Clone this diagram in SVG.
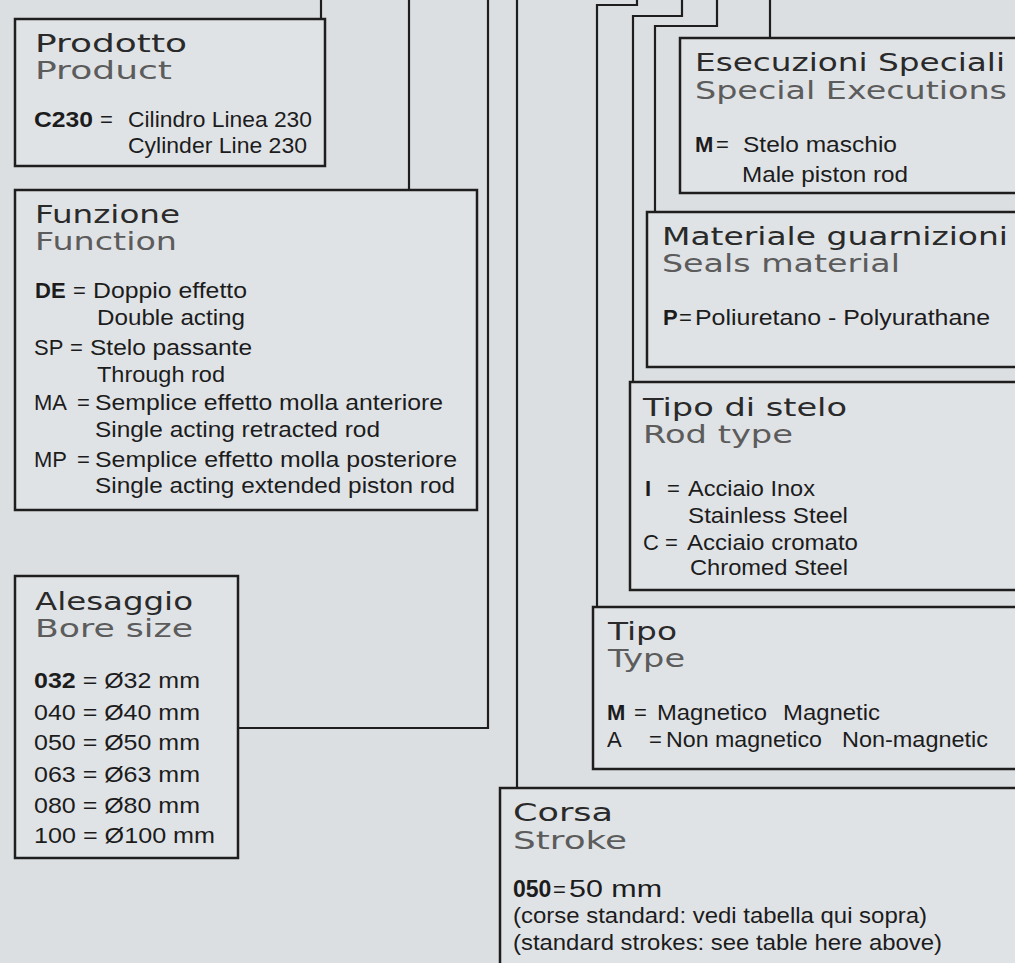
<svg xmlns="http://www.w3.org/2000/svg" width="1015" height="963" viewBox="0 0 1015 963">
<style>
.bg{fill:#dcdfe2}
.box{fill:#e0e3e6;stroke:#1e1e1e;stroke-width:2.5}
.con{fill:none;stroke:#1e1e1e;stroke-width:2.2}
.t1{font-family:"DejaVu Sans",sans-serif;font-size:25px;fill:#2a2a2a}
.t2{font-family:"DejaVu Sans",sans-serif;font-size:25px;fill:#5c5c5c}
.b{font-family:"Liberation Sans",Arial,sans-serif;font-size:22px;fill:#1c1c1c}
.k{font-weight:bold}
</style>
<rect class="bg" x="0" y="0" width="1015" height="963"/>
<g id="connectors">
<path class="con" d="M321 0V19"/>
<path class="con" d="M409 0V190"/>
<path class="con" d="M488 0V728H238"/>
<path class="con" d="M517 0V788"/>
<path class="con" d="M597 607V5H637V0"/>
<path class="con" d="M633 382V16H682V0"/>
<path class="con" d="M655 212V26H717V0"/>
<path class="con" d="M770 0V38"/>
</g>
<g id="prodotto">
<rect class="box" x="15" y="19" width="310" height="147"/>
<text class="t1" x="35" y="52" textLength="152" lengthAdjust="spacingAndGlyphs">Prodotto</text>
<text class="t2" x="35" y="79" textLength="137" lengthAdjust="spacingAndGlyphs">Product</text>
<text class="b k" x="34" y="127" textLength="59" lengthAdjust="spacingAndGlyphs">C230</text>
<text class="b" x="100" y="127">=</text>
<text class="b" x="128" y="127" textLength="184" lengthAdjust="spacingAndGlyphs">Cilindro Linea 230</text>
<text class="b" x="128" y="153" textLength="179" lengthAdjust="spacingAndGlyphs">Cylinder Line 230</text>
</g>
<g id="funzione">
<rect class="box" x="15" y="190" width="462" height="320"/>
<text class="t1" x="35" y="223" textLength="145" lengthAdjust="spacingAndGlyphs">Funzione</text>
<text class="t2" x="35" y="250" textLength="142" lengthAdjust="spacingAndGlyphs">Function</text>
<text class="b k" x="35" y="298">DE</text>
<text class="b" x="73" y="298">=</text>
<text class="b" x="93" y="298" textLength="154" lengthAdjust="spacingAndGlyphs">Doppio effetto</text>
<text class="b" x="97" y="325" textLength="148" lengthAdjust="spacingAndGlyphs">Double acting</text>
<text class="b" x="34" y="355">SP</text>
<text class="b" x="70" y="355">=</text>
<text class="b" x="90" y="355" textLength="162" lengthAdjust="spacingAndGlyphs">Stelo passante</text>
<text class="b" x="97" y="382" textLength="128" lengthAdjust="spacingAndGlyphs">Through rod</text>
<text class="b" x="34" y="410">MA</text>
<text class="b" x="77" y="410">=</text>
<text class="b" x="95" y="410" textLength="348" lengthAdjust="spacingAndGlyphs">Semplice effetto molla anteriore</text>
<text class="b" x="95" y="437" textLength="285" lengthAdjust="spacingAndGlyphs">Single acting retracted rod</text>
<text class="b" x="34" y="467">MP</text>
<text class="b" x="77" y="467">=</text>
<text class="b" x="95" y="467" textLength="362" lengthAdjust="spacingAndGlyphs">Semplice effetto molla posteriore</text>
<text class="b" x="95" y="493" textLength="360" lengthAdjust="spacingAndGlyphs">Single acting extended piston rod</text>
</g>
<g id="alesaggio">
<rect class="box" x="15" y="576" width="223" height="282"/>
<text class="t1" x="35" y="610" textLength="158" lengthAdjust="spacingAndGlyphs">Alesaggio</text>
<text class="t2" x="35" y="637" textLength="158" lengthAdjust="spacingAndGlyphs">Bore size</text>
<text class="b" x="34" y="688" textLength="166" lengthAdjust="spacingAndGlyphs"><tspan class="k">032</tspan> = Ø32 mm</text>
<text class="b" x="34" y="720" textLength="166" lengthAdjust="spacingAndGlyphs">040 = Ø40 mm</text>
<text class="b" x="34" y="750" textLength="166" lengthAdjust="spacingAndGlyphs">050 = Ø50 mm</text>
<text class="b" x="34" y="782" textLength="166" lengthAdjust="spacingAndGlyphs">063 = Ø63 mm</text>
<text class="b" x="34" y="813" textLength="166" lengthAdjust="spacingAndGlyphs">080 = Ø80 mm</text>
<text class="b" x="34" y="843" textLength="181" lengthAdjust="spacingAndGlyphs">100 = Ø100 mm</text>
</g>
<g id="esecuzioni">
<rect class="box" x="680" y="38" width="345" height="155"/>
<text class="t1" x="695" y="71" textLength="310" lengthAdjust="spacingAndGlyphs">Esecuzioni Speciali</text>
<text class="t2" x="695" y="99" textLength="312" lengthAdjust="spacingAndGlyphs">Special Executions</text>
<text class="b k" x="695" y="152">M</text>
<text class="b" x="716" y="152">=</text>
<text class="b" x="743" y="152" textLength="154" lengthAdjust="spacingAndGlyphs">Stelo maschio</text>
<text class="b" x="742" y="182" textLength="166" lengthAdjust="spacingAndGlyphs">Male piston rod</text>
</g>
<g id="materiale">
<rect class="box" x="647" y="212" width="378" height="155"/>
<text class="t1" x="662" y="245" textLength="346" lengthAdjust="spacingAndGlyphs">Materiale guarnizioni</text>
<text class="t2" x="662" y="272" textLength="238" lengthAdjust="spacingAndGlyphs">Seals material</text>
<text class="b k" x="663" y="325">P</text>
<text class="b" x="679" y="325">=</text>
<text class="b" x="695" y="325" textLength="295" lengthAdjust="spacingAndGlyphs">Poliuretano - Polyurathane</text>
</g>
<g id="tipo-stelo">
<rect class="box" x="630" y="382" width="395" height="208"/>
<text class="t1" x="643" y="416" textLength="204" lengthAdjust="spacingAndGlyphs">Tipo di stelo</text>
<text class="t2" x="643" y="443" textLength="150" lengthAdjust="spacingAndGlyphs">Rod type</text>
<text class="b k" x="645" y="496">I</text>
<text class="b" x="667" y="496">=</text>
<text class="b" x="688" y="496" textLength="127" lengthAdjust="spacingAndGlyphs">Acciaio Inox</text>
<text class="b" x="688" y="523" textLength="160" lengthAdjust="spacingAndGlyphs">Stainless Steel</text>
<text class="b" x="643" y="550">C</text>
<text class="b" x="665" y="550">=</text>
<text class="b" x="687" y="550" textLength="171" lengthAdjust="spacingAndGlyphs">Acciaio cromato</text>
<text class="b" x="690" y="575" textLength="158" lengthAdjust="spacingAndGlyphs">Chromed Steel</text>
</g>
<g id="tipo">
<rect class="box" x="593" y="607" width="432" height="162"/>
<text class="t1" x="608" y="640" textLength="69" lengthAdjust="spacingAndGlyphs">Tipo</text>
<text class="t2" x="608" y="667" textLength="77" lengthAdjust="spacingAndGlyphs">Type</text>
<text class="b k" x="607" y="720">M</text>
<text class="b" x="634" y="720">=</text>
<text class="b" x="657" y="720" textLength="110" lengthAdjust="spacingAndGlyphs">Magnetico</text>
<text class="b" x="783" y="720" textLength="97" lengthAdjust="spacingAndGlyphs">Magnetic</text>
<text class="b" x="607" y="747">A</text>
<text class="b" x="649" y="747">=</text>
<text class="b" x="666" y="747" textLength="156" lengthAdjust="spacingAndGlyphs">Non magnetico</text>
<text class="b" x="842" y="747" textLength="146" lengthAdjust="spacingAndGlyphs">Non-magnetic</text>
</g>
<g id="corsa">
<rect class="box" x="500" y="788" width="525" height="190"/>
<text class="t1" x="513" y="821" textLength="100" lengthAdjust="spacingAndGlyphs">Corsa</text>
<text class="t2" x="513" y="849" textLength="114" lengthAdjust="spacingAndGlyphs">Stroke</text>
<text class="b k" x="513" y="897" style="font-size:23px">050</text>
<text class="b" x="553" y="897">=</text>
<text class="b" x="569" y="897" textLength="93" lengthAdjust="spacingAndGlyphs" style="font-size:23px">50 mm</text>
<text class="b" x="513" y="923" textLength="414" lengthAdjust="spacingAndGlyphs">(corse standard: vedi tabella qui sopra)</text>
<text class="b" x="513" y="950" textLength="429" lengthAdjust="spacingAndGlyphs">(standard strokes: see table here above)</text>
</g>
</svg>
